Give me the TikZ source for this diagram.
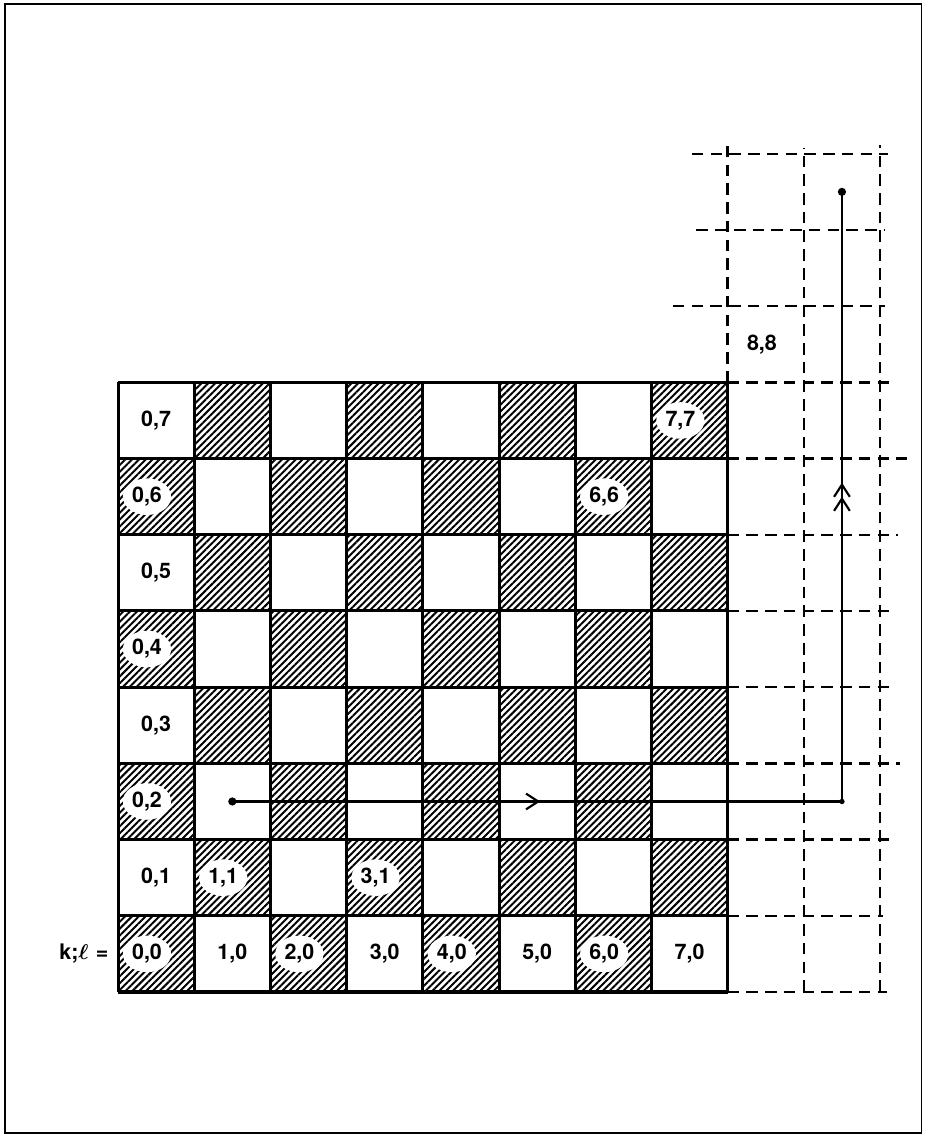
\documentclass[tikz,border=0pt]{standalone}
\usepackage{fontspec}
\setsansfont{TeX Gyre Heros}
\usetikzlibrary{patterns.meta,shapes.geometric,arrows.meta,decorations.markings}

\tikzset{
  board/.style={line width=1.7pt},
  ghost/.style={line width=1.4pt, dash pattern=on 6.5pt off 4pt},
  hatch/.style={pattern={Lines[angle=45,distance=2.7pt,line width=1.1pt]}},
  lbl/.style={font=\sffamily\bfseries\fontsize{12}{14}\selectfont, inner sep=1pt},
  blob/.style={lbl, ellipse, fill=white, minimum width=0.95cm, minimum height=0.72cm},
  chev/.tip={Straight Barb[length=2.4mm,width=3.1mm,line width=1.2pt]},
  route/.style={line width=1.4pt, postaction={decorate}, decoration={markings,
    mark=at position 0.2525 with {\arrow{chev}},
    mark=at position 0.75 with {\arrow{chev}},
    mark=at position 0.7615 with {\arrow{chev}}}},
}

\begin{document}
\begin{tikzpicture}[x=1.5cm,y=1.5cm]
\useasboundingbox (-1.549,-1.903) rectangle (10.591,13.018);
\draw[line width=1pt] (-1.483,-1.85) rectangle (10.545,12.966);

\foreach \cx in {0,...,7}
  \foreach \cy in {0,...,7} {
    \pgfmathtruncatemacro\odd{mod(\cx+\cy,2)}
    \ifnum\odd=0 \fill[hatch] (\cx,\cy) rectangle ++(1,1); \fi
  }

% dashed continuation of the board
\draw[ghost] (8,8) -- (8,11.15);
\draw[ghost] (9,0) -- (9,11.08);
\draw[ghost] (10,0) -- (10,11.12);
\draw[ghost] (7.53,11) -- (10.1,11);
\draw[ghost] (7.59,10) -- (10.07,10);
\draw[ghost] (7.28,9) -- (10.07,9);
\foreach \cy/\len in {8/10.13,7/10.35,6/10.24,5/10.13,4/10.17,3/10.26,2/10.13,1/10.04,0/10.09}
  \draw[ghost] (8,\cy) -- (\len,\cy);

\draw[board] (0,0) grid[step=1.5cm] (8,8);

\foreach \cx/\cy in {0/0,0/1,0/2,0/3,0/4,0/5,0/6,0/7,1/0,2/0,3/0,4/0,5/0,6/0,7/0,1/1,3/1,6/6,7/7} {
  \pgfmathtruncatemacro\odd{mod(\cx+\cy,2)}
  \ifnum\odd=0
    \node[blob] (c\cx\cy) at (\cx+0.38,\cy+0.5) {\cx,\cy};
  \else
    \node[lbl] (c\cx\cy) at (\cx+0.5,\cy+0.5) {\cx,\cy};
  \fi
}
\node[lbl] (c88) at (8.45,8.5) {8,8};
\node[lbl, anchor=east] (kl) at (-0.1,0.5) {k;{\boldmath$\ell$}\,\,=};

\coordinate (start) at (1.5,2.5);
\coordinate (corner) at (9.5,2.5);
\coordinate (end) at (9.5,10.5);
\draw[route] (start) -- (corner) -- (end);
\fill (start) circle (2.3pt);
\fill (corner) circle (1.5pt);
\fill (end) circle (2.3pt);
\end{tikzpicture}
\end{document}
